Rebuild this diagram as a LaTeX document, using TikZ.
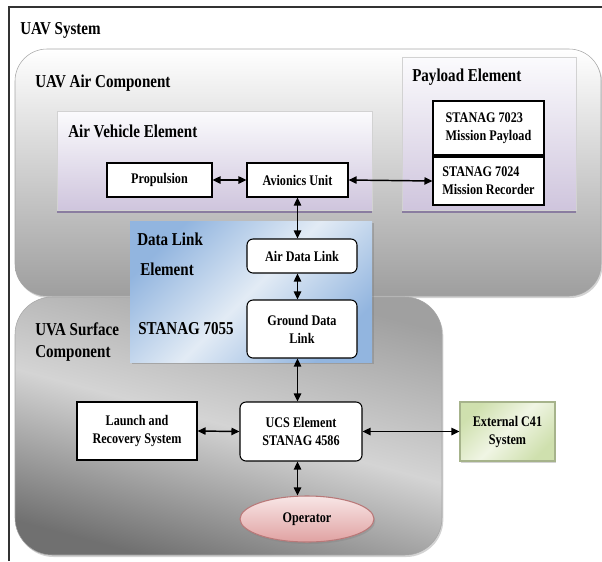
\documentclass[tikz,border=0pt]{standalone}
\usepackage{fontspec}
\setmainfont{Liberation Serif}[FakeStretch=0.83]
\usepackage{tikz}
\usetikzlibrary{positioning,shadows,arrows.meta,shapes.geometric}

\definecolor{AirTop}{HTML}{FFFFFF}
\definecolor{AirBot}{HTML}{9E9E9E}
\definecolor{AVTop}{HTML}{FBFBFD}
\definecolor{AVBot}{HTML}{CFC5DD}
\definecolor{AVEdge}{HTML}{8A7DA0}
\definecolor{SurfL}{HTML}{A0A0A0}
\definecolor{SurfM}{HTML}{D4D4D4}
\definecolor{SurfR}{HTML}{707070}
\definecolor{DLEdge}{HTML}{92B5DF}
\definecolor{DLMid}{HTML}{E2EBF5}
\definecolor{OpTop}{HTML}{F8E6E6}
\definecolor{OpBot}{HTML}{E0A2A2}
\definecolor{OpLine}{HTML}{B87878}
\definecolor{ExtEdge}{HTML}{CFE0AE}
\definecolor{ExtMid}{HTML}{F0F5E4}

\newcommand{\lblfont}{\bfseries\fontsize{13.6}{17}\selectfont}
\newcommand{\boxfont}{\bfseries\fontsize{11}{13.5}\selectfont}

\begin{document}
\begin{tikzpicture}[x=0.75pt,y=-0.75pt,
    link/.style={{Triangle[length=6pt,width=5.5pt]}-{Triangle[length=6pt,width=5.5pt]}, line width=1.1pt},
    unit/.style={draw, line width=0.8pt, fill=white, font=\boxfont, align=center, inner sep=1pt},
    title/.style={anchor=north west, font=\lblfont, inner sep=0pt, align=left},
    softshadow/.style={drop shadow={shadow xshift=1pt, shadow yshift=-1.5pt, opacity=0.35}}]
    \useasboundingbox (0,0) rectangle (602,561);

    % UAV System frame
    \draw [line width=1.1pt, black!80] (9,561) -- (9,7) -- (602,7);
    \node [title] (sys) at (20,22) {UAV System};

    % Air component
    \draw [draw=gray!70, top color=AirTop, bottom color=AirBot, rounded corners=24pt, softshadow]
        (15,49) rectangle (601,296);
    \node [title] (aircomp) at (35,75) {UAV Air Component};

    \draw [draw=gray!35, top color=AVTop, bottom color=AVBot,
        drop shadow={fill=AVEdge, shadow xshift=0pt, shadow yshift=-2pt, opacity=1}]
        (57,111) rectangle (372,210);
    \node [title] (avel) at (68,125) {Air Vehicle Element};

    \draw [draw=gray!35, top color=AVTop, bottom color=AVBot,
        drop shadow={fill=AVEdge, shadow xshift=0pt, shadow yshift=-2pt, opacity=1}]
        (402,57) rectangle (576,210);
    \node [title] (payel) at (412,69) {Payload Element};

    % Surface component
    \draw [draw=gray!70, left color=SurfL, right color=SurfR, middle color=SurfM, shading angle=-15,
        rounded corners=28pt, softshadow]
        (15,297) rectangle (442,555);
    \node [title] (surfcomp) at (35,322) {UVA Surface\\Component};

    % Data link element
    \draw [draw=none, left color=DLEdge, right color=DLEdge, middle color=DLMid, shading angle=45,
        drop shadow={shadow xshift=1.5pt, shadow yshift=-1.5pt, opacity=0.45}]
        (130,221) rectangle (372,362);
    \node [title] (dlel) at (137,233) {Data Link\\[5pt]\,Element};
    \node [title] (st7055) at (138,322) {STANAG 7055};

    % Units
    \node [unit, minimum width=78.75pt, minimum height=25.5pt] (prop) at (159.5,180) {Propulsion};
    \node [unit, minimum width=75.75pt, minimum height=25.5pt] (avion) at (297.5,180) {Avionics Unit};
    \node [unit, align=left, minimum width=83.25pt, minimum height=40.5pt] (st7023) at (488.5,128) {STANAG 7023\\Mission Payload};
    \node [unit, align=left, minimum width=83.25pt, minimum height=36pt] (st7024) at (488.5,181) {STANAG 7024\\Mission Recorder};
    \node [unit, rounded corners=4.5pt, minimum width=82.5pt, minimum height=25.5pt] (airdl) at (302,256) {Air Data Link};
    \node [unit, rounded corners=4.5pt, minimum width=82.5pt, minimum height=43.5pt] (gnddl) at (302,329) {Ground Data\\Link};
    \node [unit, rounded corners=4.5pt, minimum width=91.5pt, minimum height=44.25pt] (ucs) at (301,431.5) {UCS Element\\STANAG 4586};
    \node [unit, minimum width=90pt, minimum height=43.5pt] (launch) at (137,431) {Launch and\\Recovery System};
    \node [unit, draw=ExtEdge!80!black, left color=ExtEdge, right color=ExtEdge, middle color=ExtMid, shading angle=45,
        softshadow, minimum width=71.25pt, minimum height=44.25pt] (ext) at (507.5,431.5) {External C41\\System};
    \node [unit, ellipse, draw=OpLine, top color=OpTop, bottom color=OpBot, softshadow,
        minimum width=100.5pt, minimum height=34.5pt] (oper) at (307,519) {Operator};

    % Links
    \draw [link] (prop.east) -- (avion.west);
    \draw [link] (avion.east) -- (st7024.west);
    \draw [link] (avion.south) -- (avion.south |- airdl.north);
    \draw [link] (avion.south |- airdl.south) -- (avion.south |- gnddl.north);
    \draw [link] (avion.south |- gnddl.south) -- (avion.south |- ucs.north);
    \draw [link] (avion.south |- ucs.south) -- (avion.south |- oper.north);
    \draw [link] (launch.east) -- (ucs.west);
    \draw [link] (ucs.east) -- (ext.west);
\end{tikzpicture}
\end{document}
